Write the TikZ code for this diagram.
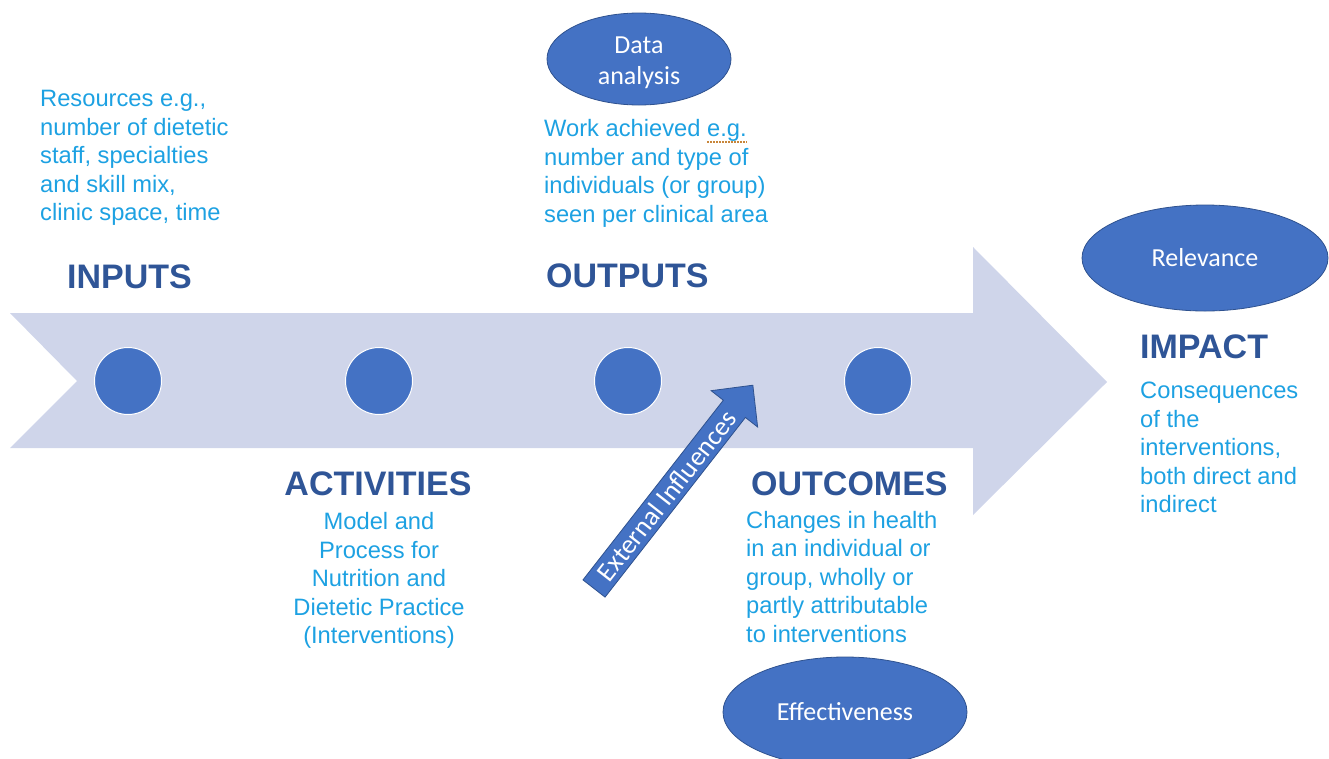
\documentclass[tikz,border=0pt]{standalone}
\usepackage{fontspec}
\setmainfont{Liberation Sans}
\newfontfamily\calib{Carlito}
\usetikzlibrary{shapes.geometric}

\definecolor{bandfill}{HTML}{CFD5EA}
\definecolor{dotblue}{HTML}{4472C4}
\definecolor{edgeblue}{HTML}{2F528F}
\definecolor{headblue}{HTML}{2F5597}
\definecolor{textblue}{HTML}{1DA1E2}
\definecolor{proofmark}{HTML}{C8863A}

\tikzset{
  heading/.style={anchor=base west, inner sep=0pt, text=headblue,
    font=\fontsize{34}{40}\selectfont\bfseries},
  body/.style={anchor=base west, inner sep=0pt, align=left, text=textblue,
    font=\fontsize{23.7}{28.4}\selectfont},
  stage/.style={circle, minimum size=67pt, inner sep=0pt, fill=dotblue,
    draw=white, line width=1pt},
  measure/.style={ellipse, inner sep=0pt, fill=dotblue, draw=edgeblue,
    line width=0.8pt, text=white, align=center,
    font=\calib\fontsize{26}{31}\selectfont},
}

\begin{document}
\begin{tikzpicture}[x=1pt, y=-1pt]
  \useasboundingbox (0,0) rectangle (1329,758);

  % broad chevron arrow carrying the stages
  \fill[bandfill] (10,313) -- (973,313) -- (973,247) -- (1107,382)
    -- (973,515) -- (973,448) -- (10,448) -- (77,381) -- cycle;

  % stage markers
  \node[stage] (s1) at (128,381) {};
  \node[stage] (s2) at (379,381) {};
  \node[stage] (s3) at (628,381) {};
  \node[stage] (s4) at (878,381) {};

  % headings
  \node[heading] (hin)  at (67,288)  {INPUTS};
  \node[heading] (hout) at (546,287) {OUTPUTS};
  \node[heading, anchor=base] (hact) at (378,495) {ACTIVITIES};
  \node[heading] (hoc)  at (751,495) {OUTCOMES};
  \node[heading] (him)  at (1140,358) {IMPACT};

  % descriptions (anchored on the baseline of their last line)
  \node[body] (tin) at (40,220.5) {Resources e.g.,\\number of dietetic\\staff, specialties\\and skill mix,\\clinic space, time};
  \node[body] (tout) at (544,222) {Work achieved e.g.\\number and type of\\individuals (or group)\\seen per clinical area};
  \node[body, anchor=base, align=center] (tact) at (379,643.5) {Model and\\Process for\\Nutrition and\\Dietetic Practice\\(Interventions)};
  \node[body] (toc) at (746,642) {Changes in health\\in an individual or\\group, wholly or\\partly attributable\\to interventions};
  \node[body] (tim) at (1140,512.5) {Consequences\\of the\\interventions,\\both direct and\\indirect};

  % proofing underline beneath "e.g."
  \draw[proofmark, line width=1.2pt, dash pattern=on 1.5pt off 1.5pt] (707,142) -- (747,142);

  % evaluation criteria
  \node[measure, minimum width=184pt, minimum height=92pt] (data) at (639,59) {\\[-6pt]Data\\analysis};
  \node[measure, minimum width=246pt, minimum height=106pt] (rel) at (1205,258) {Relevance};
  \node[measure, minimum width=244pt, minimum height=110pt] (eff) at (845,712) {Effectiveness};

  % external influences block arrow
  \begin{scope}[shift={(594,588.5)}, rotate=52]
    \filldraw[fill=dotblue, draw=edgeblue, line width=0.8pt]
      (0,-14) -- (228,-14) -- (228,-29.5) -- (258,0) -- (228,29.5)
      -- (228,14) -- (0,14) -- cycle;
    \node[rotate=52, inner sep=0pt, text=white,
      font=\calib\fontsize{27}{32}\selectfont] (ext) at (118,0) {External Influences};
  \end{scope}
\end{tikzpicture}
\end{document}
